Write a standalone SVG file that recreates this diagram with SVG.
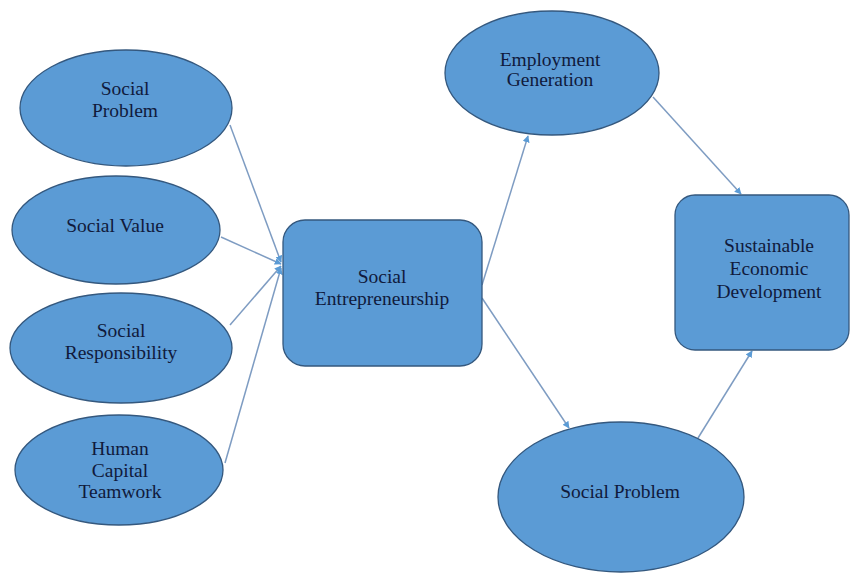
<svg xmlns="http://www.w3.org/2000/svg" width="850" height="575" viewBox="0 0 850 575">
<style>
.n{fill:#5b9bd5;stroke:#34587e;stroke-width:1.3}
.t{font-family:"Liberation Serif","Times New Roman",serif;font-size:19.5px;fill:#101a3c;text-anchor:middle}
.c{stroke:#7e9cc2;stroke-width:1.5;fill:none;marker-end:url(#ah)}
</style>
<defs>
<marker id="ah" viewBox="0 0 10 10" refX="9" refY="5" markerWidth="7" markerHeight="7" markerUnits="userSpaceOnUse" orient="auto">
<path d="M0,0 L10,5 L0,10 z" fill="#5b9bd5"/>
</marker>
</defs>
<rect width="850" height="575" fill="#ffffff"/>
<g id="connectors">
<line class="c" x1="230" y1="125" x2="281" y2="262"/>
<line class="c" x1="221" y1="237" x2="281" y2="264"/>
<line class="c" x1="230" y1="325" x2="281" y2="266"/>
<line class="c" x1="225" y1="463" x2="281" y2="268"/>
<line class="c" x1="482" y1="285" x2="528" y2="136"/>
<line class="c" x1="482" y1="298" x2="569" y2="428"/>
<line class="c" x1="653" y1="97" x2="741" y2="194"/>
<line class="c" x1="698" y1="438" x2="752" y2="351"/>
</g>
<g id="social-problem-1">
<ellipse class="n" cx="126" cy="108" rx="106" ry="58"/>
<text class="t" x="125" y="95">Social</text>
<text class="t" x="125" y="117">Problem</text>
</g>
<g id="social-value">
<ellipse class="n" cx="116" cy="230" rx="104" ry="54"/>
<text class="t" x="115" y="232">Social Value</text>
</g>
<g id="social-responsibility">
<ellipse class="n" cx="121" cy="348" rx="111" ry="55"/>
<text class="t" x="121" y="337">Social</text>
<text class="t" x="121" y="359">Responsibility</text>
</g>
<g id="human-capital">
<ellipse class="n" cx="119" cy="470" rx="104" ry="55"/>
<text class="t" x="120" y="455">Human</text>
<text class="t" x="120" y="477">Capital</text>
<text class="t" x="120" y="498">Teamwork</text>
</g>
<g id="social-entrepreneurship">
<rect class="n" x="283" y="220" width="199" height="146" rx="22"/>
<text class="t" x="382" y="283">Social</text>
<text class="t" x="382" y="305">Entrepreneurship</text>
</g>
<g id="employment-generation">
<ellipse class="n" cx="552" cy="73" rx="107" ry="62"/>
<text class="t" x="550" y="66">Employment</text>
<text class="t" x="550" y="86">Generation</text>
</g>
<g id="social-problem-2">
<ellipse class="n" cx="621" cy="497" rx="123" ry="75"/>
<text class="t" x="620" y="498">Social Problem</text>
</g>
<g id="sustainable-economic-development">
<rect class="n" x="675" y="195" width="174" height="155" rx="20"/>
<text class="t" x="769" y="252">Sustainable</text>
<text class="t" x="769" y="275">Economic</text>
<text class="t" x="769" y="298">Development</text>
</g>
</svg>
